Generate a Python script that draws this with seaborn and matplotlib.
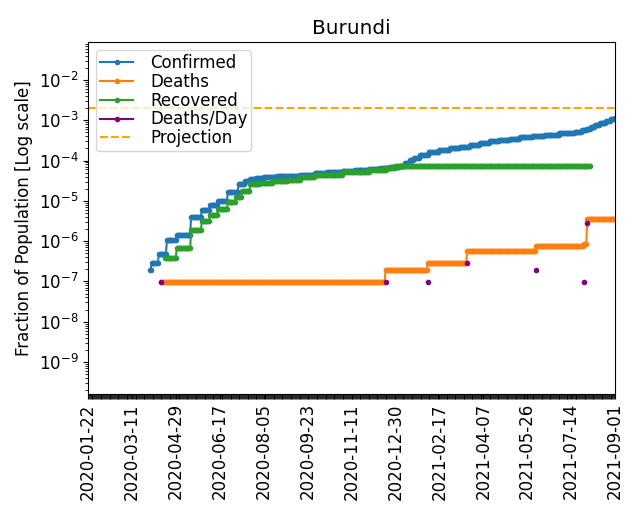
import pandas as pd
import seaborn as sns
import matplotlib.pyplot as plt
import matplotlib.dates as mdates
from matplotlib.lines import Line2D

plt.rcParams['font.size'] = 12

country = 'Burundi'
population = 10524117
projection = 2.0e-3
start_date = '2020-01-22'
end_date = '2021-09-01'

# cumulative counts at the dates they change
confirmed_dates = ['2020-03-31', '2020-04-02', '2020-04-10', '2020-04-19', '2020-04-30',
                   '2020-05-16', '2020-05-28', '2020-06-06', '2020-06-15', '2020-06-26',
                   '2020-07-08', '2020-07-15', '2020-07-21', '2020-07-28', '2020-08-05',
                   '2020-08-20', '2020-09-01', '2020-09-15', '2020-10-01', '2020-10-15',
                   '2020-11-01', '2020-11-15', '2020-12-01', '2020-12-13', '2020-12-24',
                   '2021-01-04', '2021-01-10', '2021-01-15', '2021-01-20', '2021-01-26',
                   '2021-02-05', '2021-02-17', '2021-03-01', '2021-03-12', '2021-03-23',
                   '2021-04-03', '2021-04-14', '2021-04-25', '2021-05-07', '2021-05-18',
                   '2021-06-01', '2021-06-15', '2021-07-01', '2021-07-18', '2021-07-26',
                   '2021-08-01', '2021-08-05', '2021-08-10', '2021-08-15', '2021-08-22',
                   '2021-08-27', '2021-09-01']
confirmed_counts = [2, 3, 5, 11, 15,
                    42, 63, 83, 104, 170,
                    269, 322, 361, 387, 408,
                    425, 445, 469, 510, 540,
                    565, 600, 640, 690, 730,
                    773, 900, 1090, 1250, 1450,
                    1720, 1930, 2100, 2290, 2560,
                    2870, 3200, 3410, 3700, 4050,
                    4350, 4600, 5000, 5500, 6000,
                    6500, 7200, 8000, 8800, 10000,
                    11000, 12000]

deaths_dates = ['2020-04-13', '2020-12-19', '2021-02-04', '2021-03-20', '2021-06-05',
                '2021-07-28', '2021-08-01']
deaths_counts = [1, 2, 3, 6, 8, 9, 38]

recovered_dates = ['2020-04-17', '2020-04-30', '2020-05-16', '2020-05-28', '2020-06-06',
                   '2020-06-15', '2020-06-26', '2020-07-05', '2020-07-12', '2020-07-21',
                   '2020-08-01', '2020-08-15', '2020-09-01', '2020-09-15', '2020-10-01',
                   '2020-11-01', '2020-12-01', '2020-12-20', '2020-12-30']
recovered_counts = [4, 7, 20, 33, 46,
                    67, 100, 130, 180, 270,
                    300, 320, 340, 400, 470,
                    540, 600, 690, 773]
recovered_last = '2021-08-04'

days = pd.date_range(start_date, end_date)


def daily(dates, counts, last=None):
    s = pd.Series(counts, index=pd.to_datetime(dates)).reindex(days).ffill()
    if last is not None:
        s = s[:last]
    s = s.dropna() / population
    return pd.DataFrame({'date': s.index, 'frac': s.values})


confirmed = daily(confirmed_dates, confirmed_counts)
deaths = daily(deaths_dates, deaths_counts)
recovered = daily(recovered_dates, recovered_counts, recovered_last)

# new deaths per day (only the days with a change)
deaths_per_day = pd.Series(deaths_counts, index=pd.to_datetime(deaths_dates)).diff()
deaths_per_day.iloc[0] = deaths_counts[0]
per_day = pd.DataFrame({'date': deaths_per_day.index,
                        'frac': deaths_per_day.values / population})

fig, ax = plt.subplots(figsize=(6.4, 5.2), dpi=100)

series = [(confirmed, 'tab:blue'), (deaths, 'tab:orange'), (recovered, 'tab:green')]
for df, color in series:
    sns.lineplot(data=df, x='date', y='frac', ax=ax, color=color, marker='.',
                 markersize=6, markeredgecolor=color, markeredgewidth=1,
                 linewidth=1.5, errorbar=None, legend=False)
sns.lineplot(data=per_day, x='date', y='frac', ax=ax, color='purple', marker='.',
             markersize=6, markeredgecolor='purple', markeredgewidth=1,
             linestyle='none', errorbar=None, legend=False)
ax.axhline(projection, color='orange', linestyle='--', linewidth=1.5)

ax.set_yscale('log')
ax.set_ylim(1.65e-10, 0.0877)
ax.set_xlim(pd.Timestamp(start_date), pd.Timestamp(end_date))

ax.set_xticks(pd.date_range(start_date, end_date, freq='49D'))
ax.xaxis.set_major_formatter(mdates.DateFormatter('%Y-%m-%d'))
ax.xaxis.set_minor_locator(mdates.DayLocator())
ax.tick_params(axis='x', which='minor', length=3.5, width=0.6)
plt.setp(ax.get_xticklabels(), rotation=90)

ax.set_title(country)
ax.set_xlabel('')
ax.set_ylabel('Fraction of Population [Log scale]')

handles = [
    Line2D([], [], color='tab:blue', marker='.', label='Confirmed'),
    Line2D([], [], color='tab:orange', marker='.', label='Deaths'),
    Line2D([], [], color='tab:green', marker='.', label='Recovered'),
    Line2D([], [], color='purple', marker='.', label='Deaths/Day'),
    Line2D([], [], color='orange', linestyle='--', label='Projection'),
]
ax.legend(handles=handles, loc='upper left', labelspacing=0.05, borderpad=0.22,
          handletextpad=1.0)

fig.subplots_adjust(left=88 / 640, right=615 / 640, top=1 - 42 / 520, bottom=1 - 393.5 / 520)
fig.savefig('out.png', dpi=100)
